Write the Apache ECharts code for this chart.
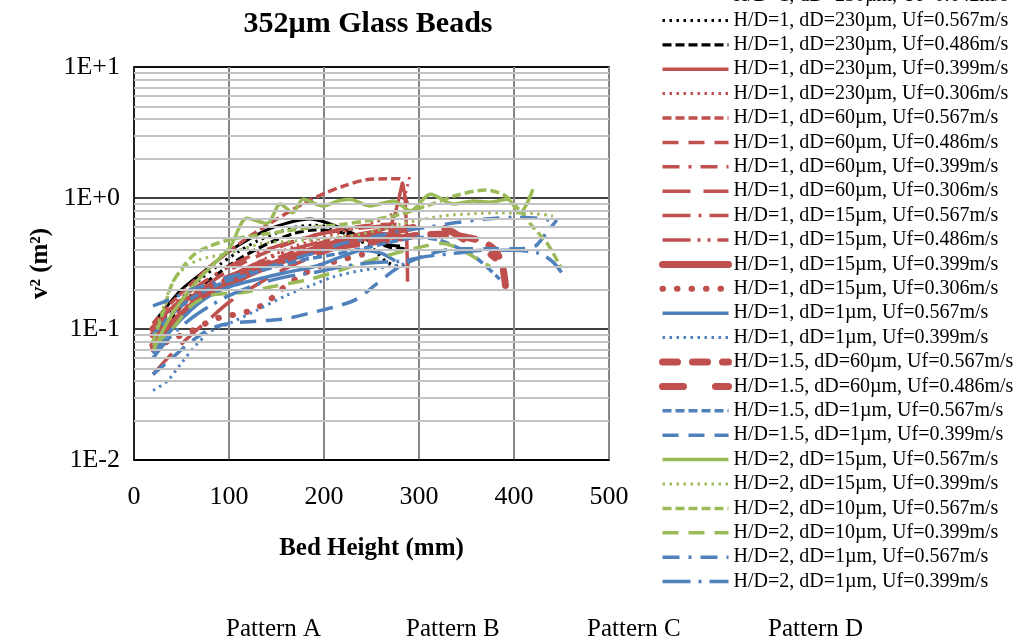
<!DOCTYPE html>
<html><head><meta charset="utf-8">
<script src="https://cdn.jsdelivr.net/npm/echarts@6/dist/echarts.min.js"></script>
<style>html,body{margin:0;padding:0;background:#fff}#c{width:1016px;height:643px}</style>
</head><body><div id="c"></div>
<script>
// ---- data: [bed height (mm), v^2 (m^2)] ----
const hd1_230_642 = [[20,0.11],[35,0.15],[50,0.2],[75,0.28],[100,0.39],[120,0.48],[140,0.57],[160,0.64],[185,0.69],[205,0.64],[225,0.56],[245,0.48],[265,0.44],[280,0.43]];
const hd1_230_567 = [[20,0.09],[35,0.13],[50,0.17],[70,0.24],[90,0.31],[110,0.39],[130,0.47],[150,0.54],[170,0.6],[190,0.62],[210,0.58],[230,0.5],[250,0.42],[265,0.33],[280,0.3],[290,0.31]];
const hd1_230_486 = [[20,0.08],[35,0.11],[50,0.15],[70,0.21],[90,0.27],[110,0.34],[130,0.41],[150,0.48],[170,0.54],[190,0.57],[210,0.56],[230,0.52],[250,0.47],[270,0.42],[285,0.41]];
const hd1_230_399 = [[20,0.07],[40,0.11],[60,0.15],[80,0.19],[100,0.23],[130,0.29],[160,0.35],[190,0.42],[220,0.48],[250,0.55],[270,0.62],[283,1.3],[288,0.23]];
const hd1_230_306 = [[20,0.08],[50,0.13],[80,0.2],[110,0.27],[140,0.35],[170,0.43],[200,0.5],[230,0.58],[260,0.68],[280,0.85],[290,1.45]];
const hd1_60_567 = [[20,0.11],[40,0.16],[60,0.22],[80,0.3],[100,0.39],[120,0.5],[140,0.62],[160,0.76],[180,0.92],[200,1.08],[220,1.23],[245,1.38],[265,1.4],[280,1.4],[284,1.1],[288,0.9]];
const hd1_60_486 = [[20,0.09],[45,0.14],[70,0.2],[100,0.28],[130,0.36],[160,0.44],[190,0.52],[220,0.58],[250,0.62],[275,0.63],[290,0.6]];
const hd1_60_399 = [[20,0.08],[45,0.12],[70,0.17],[100,0.23],[130,0.3],[160,0.37],[190,0.44],[220,0.5],[250,0.53],[280,0.56],[290,0.58]];
const hd1_60_306 = [[20,0.045],[40,0.065],[60,0.09],[80,0.12],[100,0.16],[130,0.22],[160,0.29],[190,0.36],[220,0.43],[250,0.5],[280,0.55]];
const hd1_15_567 = [[20,0.1],[45,0.16],[70,0.22],[100,0.3],[130,0.38],[160,0.45],[190,0.52],[220,0.57],[250,0.6],[270,0.62]];
const hd1_15_486 = [[20,0.085],[45,0.13],[70,0.18],[100,0.25],[130,0.32],[160,0.39],[190,0.45],[220,0.5],[250,0.55],[275,0.58]];
const hd1_15_399 = [[20,0.075],[40,0.11],[60,0.15],[80,0.19],[100,0.22],[120,0.26],[140,0.3],[160,0.34],[180,0.38],[200,0.42],[220,0.47],[240,0.5],[260,0.52],[280,0.5]];
const hd1_15_306 = [[20,0.07],[35,0.08],[50,0.09],[65,0.1],[80,0.115],[95,0.125],[110,0.13],[125,0.14],[140,0.16],[155,0.2],[170,0.24],[185,0.28],[200,0.31],[220,0.34],[240,0.37]];
const hd1_1_567 = [[20,0.065],[40,0.1],[60,0.14],[80,0.18],[100,0.21],[130,0.24],[160,0.27],[190,0.3],[220,0.36],[240,0.4],[260,0.38],[275,0.33]];
const hd1_1_399 = [[20,0.034],[35,0.04],[50,0.055],[65,0.075],[80,0.095],[100,0.11],[130,0.14],[160,0.18],[190,0.22],[210,0.25],[240,0.28],[270,0.3],[290,0.32]];
const hd15_60_567 = [[20,0.1],[40,0.14],[60,0.18],[90,0.23],[120,0.28],[150,0.33],[180,0.38],[210,0.42],[240,0.45],[270,0.48],[300,0.52],[330,0.53],[350,0.5],[365,0.47],[380,0.4],[388,0.3],[392,0.18]];
const hd15_60_486 = [[20,0.09],[40,0.12],[60,0.16],[90,0.21],[120,0.27],[150,0.32],[180,0.38],[210,0.44],[240,0.5],[270,0.55],[300,0.6],[320,0.6],[335,0.55],[350,0.47],[365,0.42],[380,0.35]];
const hd15_1_567 = [[20,0.09],[40,0.13],[60,0.17],[90,0.22],[120,0.26],[150,0.3],[180,0.34],[210,0.37],[240,0.41],[270,0.46],[300,0.5],[320,0.48],[340,0.42],[360,0.35],[385,0.24]];
const hd15_1_399 = [[20,0.045],[40,0.06],[60,0.08],[80,0.1],[100,0.11],[130,0.115],[160,0.12],[190,0.135],[215,0.15],[235,0.17],[255,0.22],[280,0.3],[310,0.37],[340,0.41],[370,0.41],[400,0.41],[420,0.42],[435,0.55],[445,0.68]];
const hd2_15_567 = [[20,0.068],[40,0.13],[66,0.23],[85,0.32],[101,0.42],[119,0.7],[140,0.64],[154,0.9],[167,0.77],[178,0.98],[199,0.87],[215,0.95],[227,0.98],[248,0.87],[273,0.95],[291,0.8],[312,1.07],[336,0.9],[357,0.95],[375,0.93],[393,0.98],[406,0.77],[420,1.17]];
const hd2_15_399 = [[20,0.08],[30,0.14],[41,0.23],[55,0.3],[70,0.34],[100,0.38],[136,0.45],[170,0.47],[200,0.49],[240,0.53],[280,0.63],[325,0.73],[360,0.76],[385,0.77],[420,0.76],[441,0.73]];
const hd2_10_567 = [[20,0.08],[30,0.13],[40,0.22],[52,0.3],[65,0.38],[80,0.43],[100,0.48],[130,0.52],[160,0.56],[190,0.6],[220,0.63],[250,0.68],[280,0.75],[310,0.88],[340,1.05],[370,1.15],[390,1.05],[405,0.82],[420,0.6],[435,0.45],[450,0.29]];
const hd2_10_399 = [[20,0.075],[40,0.1],[60,0.15],[80,0.18],[115,0.19],[145,0.21],[185,0.24],[210,0.27],[235,0.31],[270,0.37],[300,0.42],[325,0.45],[345,0.4],[365,0.33],[375,0.3]];
const hd2_1_567 = [[20,0.15],[40,0.17],[60,0.2],[80,0.22],[100,0.25],[130,0.28],[160,0.33],[190,0.38],[220,0.45],[250,0.5],[280,0.56],[310,0.6],[340,0.65],[370,0.69],[400,0.71],[425,0.7],[445,0.66]];
const hd2_1_399 = [[20,0.06],[40,0.09],[60,0.12],[80,0.15],[100,0.18],[130,0.22],[160,0.25],[190,0.27],[220,0.3],[250,0.32],[280,0.33],[310,0.36],[340,0.38],[370,0.4],[400,0.4],[425,0.38],[440,0.33],[450,0.27]];

const seriesNames = [
 'H/D=1, dD=230µm, Uf=0.642m/s','H/D=1, dD=230µm, Uf=0.567m/s','H/D=1, dD=230µm, Uf=0.486m/s',
 'H/D=1, dD=230µm, Uf=0.399m/s','H/D=1, dD=230µm, Uf=0.306m/s',
 'H/D=1, dD=60µm, Uf=0.567m/s','H/D=1, dD=60µm, Uf=0.486m/s','H/D=1, dD=60µm, Uf=0.399m/s','H/D=1, dD=60µm, Uf=0.306m/s',
 'H/D=1, dD=15µm, Uf=0.567m/s','H/D=1, dD=15µm, Uf=0.486m/s','H/D=1, dD=15µm, Uf=0.399m/s','H/D=1, dD=15µm, Uf=0.306m/s',
 'H/D=1, dD=1µm, Uf=0.567m/s','H/D=1, dD=1µm, Uf=0.399m/s',
 'H/D=1.5, dD=60µm, Uf=0.567m/s','H/D=1.5, dD=60µm, Uf=0.486m/s',
 'H/D=1.5, dD=1µm, Uf=0.567m/s','H/D=1.5, dD=1µm, Uf=0.399m/s',
 'H/D=2, dD=15µm, Uf=0.567m/s','H/D=2, dD=15µm, Uf=0.399m/s',
 'H/D=2, dD=10µm, Uf=0.567m/s','H/D=2, dD=10µm, Uf=0.399m/s',
 'H/D=2, dD=1µm, Uf=0.567m/s','H/D=2, dD=1µm, Uf=0.399m/s'
];
const seriesData = [hd1_230_642,hd1_230_567,hd1_230_486,hd1_230_399,hd1_230_306,
 hd1_60_567,hd1_60_486,hd1_60_399,hd1_60_306,hd1_15_567,hd1_15_486,hd1_15_399,hd1_15_306,
 hd1_1_567,hd1_1_399,hd15_60_567,hd15_60_486,hd15_1_567,hd15_1_399,
 hd2_15_567,hd2_15_399,hd2_10_567,hd2_10_399,hd2_1_567,hd2_1_399];
const yTickLabels = {'10':'1E+1','1':'1E+0','0.1':'1E-1','0.01':'1E-2'};
const minorGridValues = [0.02,0.03,0.04,0.05,0.06,0.07,0.08,0.09,0.2,0.3,0.4,0.5,0.6,0.7,0.8,0.9,2,3,4,5,6,7,8,9];
const patternLabels = ['Pattern A','Pattern B','Pattern C','Pattern D'];

// ---- styles ----
const K='#000000', R='#C0504D', B='#4F81BD', G='#9BBB59';
const DOT=[2.5,4.5], SDASH=[9,4], LDASH=[16,10], DASHDOT=[17,9,3,9], LLDASH=[28,13], LDD=[28,8,3,8], LDDD=[28,7,3,7,3,7];
const styles = [
 [K,3,'solid','butt'],[K,3,DOT,'butt'],[K,3.2,SDASH,'butt'],
 [R,3.5,'solid','butt'],[R,3,DOT,'butt'],
 [R,3.5,SDASH,'butt'],[R,3.5,LDASH,'butt'],[R,3.5,DASHDOT,'butt'],[R,3.5,LLDASH,'butt'],
 [R,3.5,LDD,'butt'],[R,3.5,LDDD,'butt'],[R,7,'solid','round'],[R,6,[0.5,14],'round'],
 [B,3.5,'solid','butt'],[B,3,DOT,'butt'],
 [R,7,[15,15],'round'],[R,7,[21,32],'round'],
 [B,3.5,SDASH,'butt'],[B,3.5,LDASH,'butt'],
 [G,3.5,'solid','butt'],[G,3,DOT,'butt'],
 [G,3.5,SDASH,'butt'],[G,3.5,LDASH,'butt'],
 [B,3.5,DASHDOT,'butt'],[B,3.5,LDD,'butt']
];
const FONT='Liberation Serif';

const series = [{
  type:'line', name:'_grid', data:[], silent:true, z:1,
  markLine:{silent:true, symbol:['none','none'], label:{show:false},
    lineStyle:{color:'#c3c3c3', width:2, type:'solid'},
    emphasis:{disabled:true},
    data: minorGridValues.map(v=>({yAxis:v}))}
}];
seriesNames.forEach((n,i)=>{
  const s=styles[i];
  series.push({type:'line', name:n, data:seriesData[i], showSymbol:false, symbol:'none',
    smooth:0.3, z:3, color:s[0], animation:false,
    lineStyle:{color:s[0], width:s[1], type:s[2], cap:s[3], join:'round'}});
});

const chart = echarts.init(document.getElementById('c'), null, {renderer:'canvas'});
chart.setOption({
  animation:false,
  backgroundColor:'#fff',
  title:{text:'352µm Glass Beads', left:363, top:4, textAlign:'center',
    textStyle:{fontFamily:FONT, fontSize:30, fontWeight:'bold', color:'#000'}},
  grid:{left:134, right:407, top:67, bottom:183, show:true, borderColor:'#000', borderWidth:1.5, containLabel:false},
  legend:{orient:'vertical', left:654, top:-19, itemWidth:66, itemHeight:14, itemGap:4.4,
    data:seriesNames, selectedMode:false,
    itemStyle:{color:'rgba(0,0,0,0)', borderWidth:0, opacity:0},
    lineStyle:{width:'inherit', type:'inherit', cap:'inherit'},
    textStyle:{fontFamily:FONT, fontSize:20, color:'#000', lineHeight:20, padding:[0,0,0,0]}},
  xAxis:{type:'value', min:0, max:500, interval:100,
    name:'Bed Height (mm)', nameLocation:'middle', nameGap:76,
    nameTextStyle:{fontFamily:FONT, fontSize:25, fontWeight:'bold', color:'#000'},
    axisLine:{show:true, lineStyle:{color:'#000', width:1.5}}, axisTick:{show:false},
    axisLabel:{fontFamily:FONT, fontSize:26, color:'#000', margin:24},
    splitLine:{show:true, lineStyle:{color:'#868686', width:2}}},
  yAxis:{type:'log', logBase:10, min:0.01, max:10,
    name:'v² (m²)', nameLocation:'middle', nameGap:81, nameRotate:90,
    nameTextStyle:{fontFamily:FONT, fontSize:25, fontWeight:'bold', color:'#000'},
    axisLine:{show:true, lineStyle:{color:'#000', width:1.5}}, axisTick:{show:false},
    axisLabel:{fontFamily:FONT, fontSize:26, color:'#000', margin:14,
      formatter:v=>yTickLabels[String(+v.toPrecision(3))]||''},
    splitLine:{show:true, lineStyle:{color:'#000', width:1.5}}},
  graphic: patternLabels.map((t,i)=>({type:'text', left:[226,406,587,768][i], top:617,
    style:{text:t, fontFamily:FONT, fontSize:25, fill:'#000'}})),
  series: series
});
</script></body></html>
